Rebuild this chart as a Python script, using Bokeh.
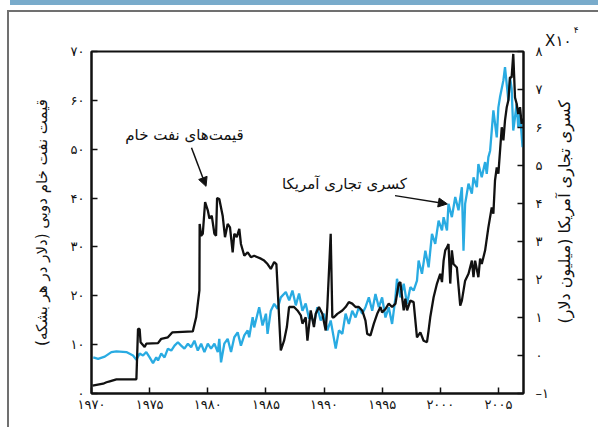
from math import pi

from bokeh.plotting import figure
from bokeh.models import (Range1d, LinearAxis, FixedTicker, Label, Arrow,
                          NormalHead, Title)
from bokeh.embed import file_html
from bokeh.resources import INLINE

# Persian digits for tick labels
FA_DIGITS = str.maketrans("0123456789-", "۰۱۲۳۴۵۶۷۸۹–")


def fa(n):
    return str(n).translate(FA_DIGITS)


# Dubai crude price, dollars per barrel (left axis)
oil_year = [
    1970.09, 1971.0, 1971.29, 1971.57, 1972.14, 1973.86, 1974.0, 1974.14, 1974.22, 1974.57,
    1974.71, 1975.72, 1976.0, 1976.57, 1976.94, 1978.71, 1979.0, 1979.28, 1979.3, 1979.43,
    1979.57, 1979.77, 1980.0, 1980.14, 1980.34, 1980.57, 1980.71, 1980.8, 1980.99, 1981.28,
    1981.48, 1981.71, 1981.91, 1982.14, 1982.28, 1982.49, 1982.71, 1982.85, 1983.14, 1983.43,
    1983.71, 1983.99, 1984.28, 1984.57, 1984.85, 1985.14, 1985.42, 1985.71, 1985.9, 1986.28,
    1986.56, 1986.8, 1986.99, 1987.42, 1987.71, 1988.0, 1988.14, 1988.42, 1988.57, 1988.85,
    1989.13, 1989.28, 1989.56, 1989.85, 1990.14, 1990.28, 1990.57, 1990.71, 1990.85, 1991.14,
    1991.57, 1991.85, 1992.13, 1992.42, 1992.71, 1992.99, 1993.28, 1993.56, 1993.71, 1993.99,
    1994.28, 1994.57, 1994.85, 1994.99, 1995.28, 1995.56, 1995.85, 1996.14, 1996.42, 1996.56,
    1996.71, 1996.85, 1996.99, 1997.14, 1997.42, 1997.7, 1997.99, 1998.28, 1998.56, 1998.85,
    1998.99, 1999.13, 1999.42, 1999.71, 1999.99, 2000.14, 2000.28, 2000.42, 2000.57, 2000.7,
    2000.85, 2000.99, 2001.13, 2001.42, 2001.71, 2001.85, 2002.13, 2002.42, 2002.71, 2002.85,
    2002.99, 2003.27, 2003.42, 2003.56, 2003.85, 2004.13, 2004.42, 2004.56, 2004.7, 2004.85,
    2004.99, 2005.28, 2005.42, 2005.56, 2005.71, 2005.85, 2005.99, 2006.13, 2006.27, 2006.42,
    2006.56, 2006.7, 2006.85, 2006.99, 2007.07,
]
oil_price = [
    1.6, 2.0, 2.3, 2.5, 2.9, 2.9, 13.2, 13.2, 10.5, 9.5,
    10.2, 10.3, 11.2, 11.5, 12.5, 12.7, 15.6, 21.1, 34.7, 32.3,
    32.7, 39.2, 37.5, 35.8, 36.4, 32.7, 32.3, 40.0, 39.8, 36.4,
    32.0, 34.7, 34.0, 28.9, 32.7, 32.0, 33.7, 30.6, 28.2, 28.9,
    27.9, 28.2, 27.9, 27.6, 27.2, 26.5, 25.5, 26.9, 26.5, 8.8,
    10.8, 13.6, 17.7, 17.7, 17.0, 16.0, 14.3, 15.6, 10.8, 17.0,
    13.6, 16.3, 17.7, 16.3, 12.9, 17.7, 32.7, 15.6, 15.6, 16.3,
    17.0, 17.7, 18.7, 18.4, 17.7, 17.7, 17.0, 14.9, 12.2, 11.9,
    14.3, 16.3, 17.7, 16.6, 17.3, 18.4, 17.7, 18.4, 22.5, 22.8,
    19.7, 17.0, 19.4, 17.0, 19.0, 18.7, 11.5, 12.5, 10.8, 10.5,
    12.9, 15.6, 19.7, 22.5, 24.5, 22.8, 27.2, 29.3, 29.9, 30.6,
    22.5, 29.3, 26.5, 25.8, 18.0, 19.0, 23.1, 24.5, 27.2, 23.8,
    27.2, 23.8, 27.6, 26.5, 29.3, 34.0, 38.1, 36.8, 43.6, 46.3,
    45.0, 54.5, 51.8, 55.9, 58.6, 60.0, 64.7, 64.7, 69.5, 60.6,
    59.3, 57.2, 58.6, 55.2, 56.3,
]

# US trade deficit, in units of 10^4 million dollars (right axis)
deficit_year = [
    1970.15, 1970.57, 1971.14, 1971.71, 1972.14, 1973.0, 1973.57, 1973.86, 1974.14, 1974.43,
    1974.71, 1975.0, 1975.29, 1975.57, 1975.72, 1976.0, 1976.28, 1976.57, 1976.86, 1977.14,
    1977.43, 1977.71, 1977.99, 1978.29, 1978.57, 1978.85, 1979.14, 1979.43, 1979.71, 1980.0,
    1980.28, 1980.57, 1980.86, 1980.99, 1981.14, 1981.42, 1981.71, 1982.0, 1982.28, 1982.57,
    1982.85, 1983.14, 1983.43, 1983.56, 1983.86, 1983.99, 1984.28, 1984.42, 1984.71, 1985.0,
    1985.14, 1985.42, 1985.71, 1986.0, 1986.28, 1986.71, 1987.0, 1987.28, 1987.57, 1987.85,
    1988.14, 1988.42, 1988.71, 1988.85, 1989.13, 1989.42, 1989.71, 1989.99, 1990.28, 1990.57,
    1991.0, 1991.28, 1991.57, 1991.85, 1992.13, 1992.42, 1992.71, 1992.99, 1993.28, 1993.56,
    1993.85, 1994.14, 1994.42, 1994.71, 1994.99, 1995.28, 1995.56, 1995.85, 1996.14, 1996.27,
    1996.56, 1996.85, 1997.14, 1997.42, 1997.7, 1997.99, 1998.13, 1998.42, 1998.71, 1998.99,
    1999.28, 1999.56, 1999.85, 2000.14, 2000.28, 2000.57, 2000.7, 2000.99, 2001.28, 2001.56,
    2001.85, 2001.99, 2002.13, 2002.42, 2002.71, 2002.85, 2003.14, 2003.27, 2003.56, 2003.85,
    2003.99, 2004.13, 2004.28, 2004.42, 2004.56, 2004.85, 2004.99, 2005.13, 2005.42, 2005.56,
    2005.71, 2005.85, 2005.99, 2006.13, 2006.27, 2006.42, 2006.56, 2006.7, 2006.85, 2007.07,
]
deficit_value = [
    -0.05, -0.09, -0.03, 0.09, 0.11, 0.09, 0.0, -0.11, 0.05, 0.0,
    0.09, -0.05, -0.2, -0.05, -0.13, 0.05, -0.05, 0.18, 0.13, 0.26,
    0.35, 0.26, 0.18, 0.31, 0.22, 0.39, 0.13, 0.31, 0.09, 0.31,
    0.18, 0.31, 0.09, 0.44, -0.18, 0.31, 0.44, 0.09, 0.48, 0.61,
    0.26, 0.53, 0.66, 0.48, 1.01, 0.74, 1.1, 1.27, 0.79, 1.1,
    0.57, 1.18, 1.36, 1.23, 1.53, 1.67, 1.45, 1.71, 1.32, 1.63,
    1.18, 1.37, 0.97, 1.1, 0.83, 1.27, 0.92, 1.1, 0.66, 0.92,
    0.18, 0.66, 0.57, 1.1, 0.83, 1.18, 1.0, 1.27, 1.1, 1.27,
    1.53, 1.18, 1.62, 1.27, 1.53, 1.0, 1.27, 0.83, 1.53, 2.02,
    1.53, 1.89, 1.36, 1.8, 1.71, 1.97, 2.5, 2.15, 2.76, 2.32,
    3.2, 2.94, 3.55, 3.29, 3.64, 3.29, 3.99, 3.64, 4.17, 3.82,
    4.43, 2.76, 3.99, 4.52, 4.26, 4.69, 4.43, 5.04, 4.69, 5.09,
    4.78, 5.22, 5.39, 5.92, 6.45, 5.74, 6.53, 6.8, 7.24, 7.59,
    7.13, 6.71, 7.32, 7.03, 5.92, 6.27, 6.63, 6.0, 6.36, 5.48,
]

year_ticks = [1970, 1975, 1980, 1985, 1990, 1995, 2000, 2005]
price_ticks = [0, 10, 20, 30, 40, 50, 60, 70]
deficit_ticks = [-1, 0, 1, 2, 3, 4, 5, 6, 7, 8]

PRICE_TITLE = "قیمت نفت خام دوبی (دلار در هر بشکه)"
DEFICIT_TITLE = "کسری تجاری آمریکا (میلیون دلار)"
DEFICIT_TITLE_AT = 0.84   # deficit value where the rotated title begins

FONT = "DejaVu Sans"
INK = "#111111"
BLUE = "#29abe2"

# page decoration behind the chart: a blue band along the top and a grey rule
page_css = {
    "background": (
        "linear-gradient(#79abcb, #79abcb) 10px 0px / 588px 5px no-repeat, "
        "linear-gradient(#707070, #707070) 7px 10px / 591px 2px no-repeat, "
        "linear-gradient(#707070, #707070) 7px 10px / 2px 417px no-repeat, "
        "#ffffff"
    ),
}

p = figure(
    width=598, height=427,
    x_range=Range1d(1970, 2007.15), y_range=Range1d(0, 70),
    output_backend="svg", toolbar_location=None,
    min_border_left=91, min_border_right=75,
    min_border_top=51, min_border_bottom=34,
    background_fill_color="white", border_fill_color=None,
    styles=page_css,
)
p.extra_y_ranges = {"deficit": Range1d(-1, 8)}
p.grid.visible = False
p.outline_line_color = INK
p.outline_line_width = 2

right_axis = LinearAxis(y_range_name="deficit")
p.add_layout(right_axis, "right")

for ax, ticks in ((p.xaxis[0], year_ticks), (p.yaxis[0], price_ticks),
                  (right_axis, deficit_ticks)):
    ax.ticker = FixedTicker(ticks=ticks)
    ax.major_label_overrides = {t: fa(t) for t in ticks}
    ax.major_tick_in = 6
    ax.major_tick_out = 0
    ax.minor_tick_in = 0
    ax.minor_tick_out = 0
    ax.axis_line_color = INK
    ax.axis_line_width = 2
    ax.major_tick_line_color = INK
    ax.major_tick_line_width = 1.5
    ax.major_label_text_font = FONT
    ax.major_label_text_font_size = "13px"
    ax.major_label_text_color = INK

p.xaxis[0].major_label_standoff = 3
p.yaxis[0].major_label_standoff = 7
right_axis.major_label_standoff = 12

p.yaxis[0].axis_label = PRICE_TITLE
p.yaxis[0].axis_label_standoff = 17
p.yaxis[0].axis_label_text_font = FONT
p.yaxis[0].axis_label_text_font_size = "15px"
p.yaxis[0].axis_label_text_font_style = "normal"
p.yaxis[0].axis_label_text_color = INK

# title of the right scale: a bare axis on the deficit range carrying a single
# label turned to read upward
right_title = LinearAxis(y_range_name="deficit",
                         ticker=FixedTicker(ticks=[DEFICIT_TITLE_AT]),
                         major_label_overrides={DEFICIT_TITLE_AT: DEFICIT_TITLE},
                         major_label_orientation=pi / 2,
                         major_label_standoff=13,
                         major_label_text_font=FONT,
                         major_label_text_font_size="16px",
                         major_label_text_color=INK,
                         axis_line_color=None,
                         major_tick_in=0, major_tick_out=0,
                         minor_tick_in=0, minor_tick_out=0)
p.add_layout(right_title, "right")

# scale factor of the right axis, written above its top tick
p.add_layout(Title(text="X۱۰", align="right", offset=-48, standoff=4,
                   text_font=FONT, text_font_size="15px",
                   text_font_style="normal", text_color=INK), "above")
p.add_layout(Title(text="۴", align="right", offset=-55, standoff=-14,
                   text_font=FONT, text_font_size="9px",
                   text_font_style="normal", text_color=INK), "above")

# the two series
p.line(deficit_year, deficit_value, y_range_name="deficit",
       line_color=BLUE, line_width=2.3)
p.line(oil_year, oil_price, line_color=INK, line_width=2.3)

# callouts
p.add_layout(Label(x=1978.0, y=53.0, text="قیمت‌های نفت خام",
                   text_align="center", text_baseline="middle",
                   text_font=FONT, text_font_size="15px", text_color=INK))
p.add_layout(Arrow(x_start=1978.6, y_start=50.3, x_end=1979.85, y_end=42.4,
                   line_color=INK, line_width=1.5,
                   end=NormalHead(size=9, fill_color=INK, line_color=INK)))
p.add_layout(Label(x=1991.75, y=42.8, text="کسری تجاری آمریکا",
                   text_align="center", text_baseline="middle",
                   text_font=FONT, text_font_size="15px", text_color=INK))
p.add_layout(Arrow(x_start=1996.1, y_start=40.5, x_end=2000.6, y_end=38.8,
                   line_color=INK, line_width=1.5,
                   end=NormalHead(size=9, fill_color=INK, line_color=INK)))

open("out.html", "w").write(file_html(p, INLINE))
